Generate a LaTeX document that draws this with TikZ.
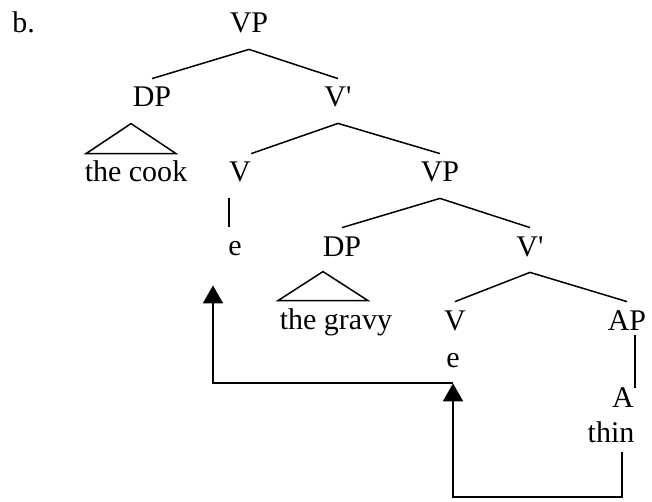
\documentclass[tikz,border=0pt]{standalone}
\usepackage{fontspec}
\setmainfont{Liberation Serif}[Ligatures=TeXOff]
\usetikzlibrary{arrows.meta}

\begin{document}
\begin{tikzpicture}[x=0.5pt,y=-0.5pt,
    every node/.style={anchor=base,inner sep=0pt,text height=14pt,text depth=8pt,font=\fontsize{15}{18}\selectfont},
    branch/.style={line width=0.75pt},
    move/.style={line width=1pt,-{Triangle[width=10pt,length=9pt]}}]
    \useasboundingbox (0,0) rectangle (652,502);

    \node (label) [anchor=base west] at (12,33) {b.};
    \node (vp) at (249,33) {VP};
    \node (subj) at (152,107) {DP};
    \node (vbar) at (338,107) {V'};
    \node (cook) at (136,182) {the cook};
    \node (verb) at (240,182) {V};
    \node (trace) at (235,255) {e};
    \node (lowvp) at (440,182) {VP};
    \node (obj) at (342,256) {DP};
    \node (lowbar) at (530,256) {V'};
    \node (gravy) at (336,329) {the gravy};
    \node (lowverb) at (455,330) {V};
    \node (ap) at (627,330) {AP};
    \node (lowtrace) at (453,367) {e};
    \node (adj) at (623,407) {A};
    \node (thin) at (611,442) {thin};

    \draw[branch] (vp.south) -- (subj.north);
    \draw[branch] (vp.south) -- (vbar.north);
    \draw[branch] (vbar.south) -- (verb.north east);
    \draw[branch] (vbar.south) -- (lowvp.north);
    \draw[branch] (verb.south west) -- (verb.south west |- trace.north);
    \draw[branch] (lowvp.south) -- (obj.north);
    \draw[branch] (lowvp.south) -- (lowbar.north);
    \draw[branch] (lowbar.south) -- (lowverb.north);
    \draw[branch] (lowbar.south) -- (ap.north);
    \draw[branch] ([xshift=4pt,yshift=5.5pt]ap.south) -- ([xshift=6pt,yshift=-4.5pt]adj.north);

    % roofs over the two DPs
    \draw[branch] ([xshift=-2.5pt]cook.north) ++(-45,0) -- ++(45,-30) -- ++(45,30) -- cycle;
    \draw[branch] ([xshift=-6.5pt]gravy.north) ++(-45,0) -- ++(45,-29) -- ++(45,29) -- cycle;

    % head movement
    \draw[move] ([xshift=5.5pt,yshift=3pt]thin.south) -- ++(0,45) -| (lowtrace.south);
    \draw[move] (lowtrace.south) -| ([xshift=-11pt,yshift=-7pt]trace.south);
\end{tikzpicture}
\end{document}
